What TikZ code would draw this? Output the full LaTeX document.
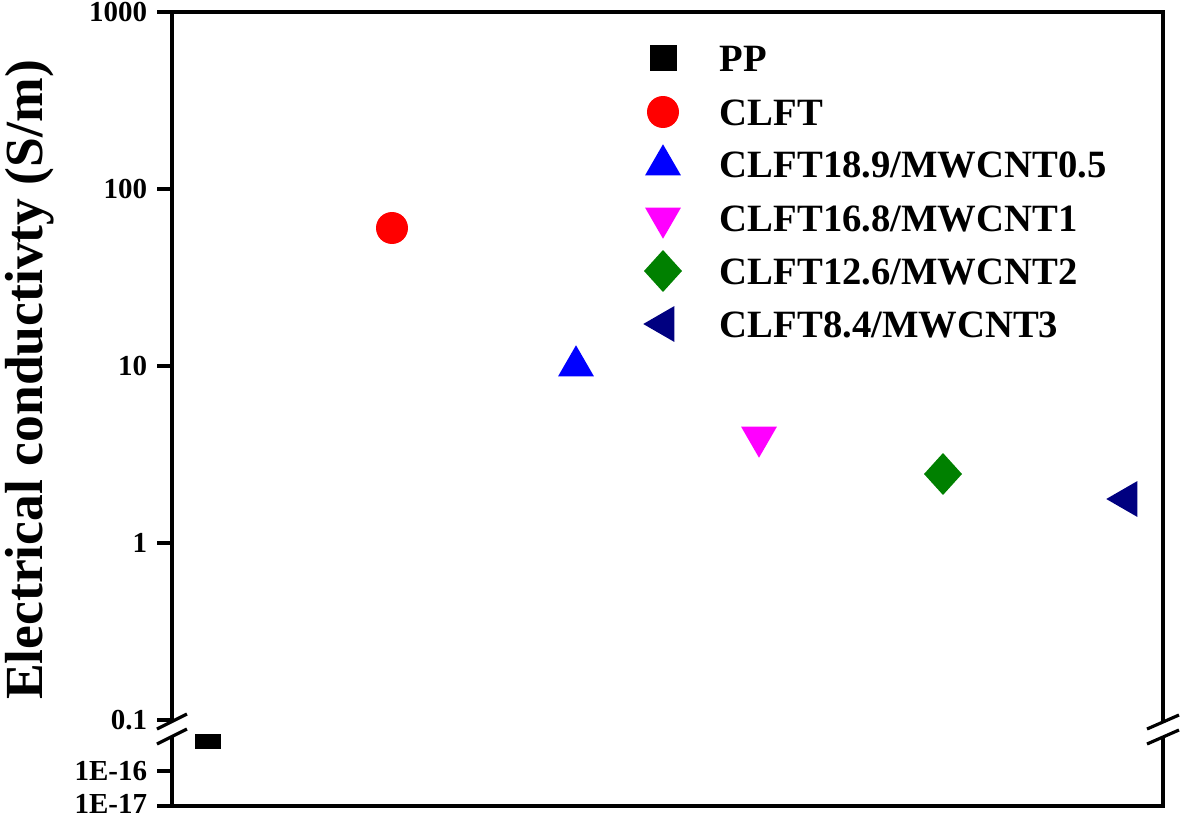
\documentclass[tikz,border=0pt]{standalone}
\usepackage{fontspec}
\setmainfont{Liberation Serif}
\usetikzlibrary{shapes.geometric}

\definecolor{plotred}{RGB}{255,0,0}
\definecolor{plotblue}{RGB}{0,0,255}
\definecolor{plotmagenta}{RGB}{255,0,255}
\definecolor{plotgreen}{RGB}{0,128,0}
\definecolor{plotnavy}{RGB}{0,0,128}

\tikzset{
    mk/.style={inner sep=0pt, outer sep=0pt, draw=none},
    ppmark/.style={mk, rectangle, fill=black, minimum width=0.54cm, minimum height=0.54cm},
    clftmark/.style={mk, circle, fill=plotred, minimum size=0.64cm},
    upmark/.style={mk, regular polygon, regular polygon sides=3, fill=plotblue, minimum size=0.83cm},
    downmark/.style={mk, regular polygon, regular polygon sides=3, shape border rotate=180, fill=plotmagenta, minimum size=0.83cm},
    diamark/.style={mk, diamond, fill=plotgreen, minimum width=0.76cm, minimum height=0.84cm},
    leftmark/.style={mk, regular polygon, regular polygon sides=3, shape border rotate=90, fill=plotnavy, minimum size=0.83cm},
    ticklab/.style={anchor=base east, inner sep=0pt, font=\bfseries\fontsize{16.5}{18}\selectfont},
    legtext/.style={anchor=base west, inner sep=0pt, font=\bfseries\fontsize{22}{26}\selectfont}
}

\begin{document}
\begin{tikzpicture}[x=0.02cm, y=-0.02cm, line width=2.2pt]
    \useasboundingbox (0,0) rectangle (1181,818);

    % Frame with axis breaks
    \draw (172,12) -- (172,721);
    \draw (172,737) -- (172,806);
    \draw (157,806) -- (1163,806) -- (1163,737);
    \draw (1163,722) -- (1163,12) -- (172,12);
    \draw[line width=1.8pt] (157,729) -- (187,714);
    \draw[line width=1.8pt] (157,744) -- (187,729);
    \draw[line width=1.8pt] (1147,729) -- (1179,715);
    \draw[line width=1.8pt] (1147,744) -- (1179,730);

    % Ticks and labels
    \foreach \ty/\lab [count=\i] in {12/1000, 189/100, 366/10, 543/1, 720/0.1, 771/1E-16} {
        \draw (157,\ty) -- (172,\ty);
        \node[ticklab] (tick\i) at (149,\ty+9.5) {\lab};
    }
    \node[ticklab] (tick7) at (149,813) {1E-17};

    \node[rotate=90, inner sep=0pt, font=\bfseries\fontsize{30.5}{34}\selectfont] (ylab) at (30,380) {Electrical conductivty (S/m)};

    % Data
    \node[ppmark, minimum height=0.30cm] (pp) at (208,741) {};
    \node[clftmark] (clft) at (392,228) {};
    \node[upmark] (cnt05) at (576,366) {};
    \node[downmark] (cnt1) at (759,437) {};
    \node[diamark] (cnt2) at (943,474) {};
    \node[leftmark] (cnt3) at (1127,499) {};

    % Legend
    \foreach \mkx/\mky/\mkstyle [count=\i] in {663/58/ppmark, 663/112/clftmark,
            663/165/upmark, 663/218/downmark, 663/271/diamark, 664/324/leftmark} {
        \node[\mkstyle] (legmk\i) at (\mkx,\mky) {};
    }
    \foreach \ly/\lab [count=\i] in {58/PP, 112/CLFT, 164/CLFT18.9\slash MWCNT0.5,
            218/CLFT16.8\slash MWCNT1, 271/CLFT12.6\slash MWCNT2, 324/CLFT8.4\slash MWCNT3} {
        \node[legtext] (legtxt\i) at (718,\ly+13.5) {\lab};
    }
\end{tikzpicture}
\end{document}
